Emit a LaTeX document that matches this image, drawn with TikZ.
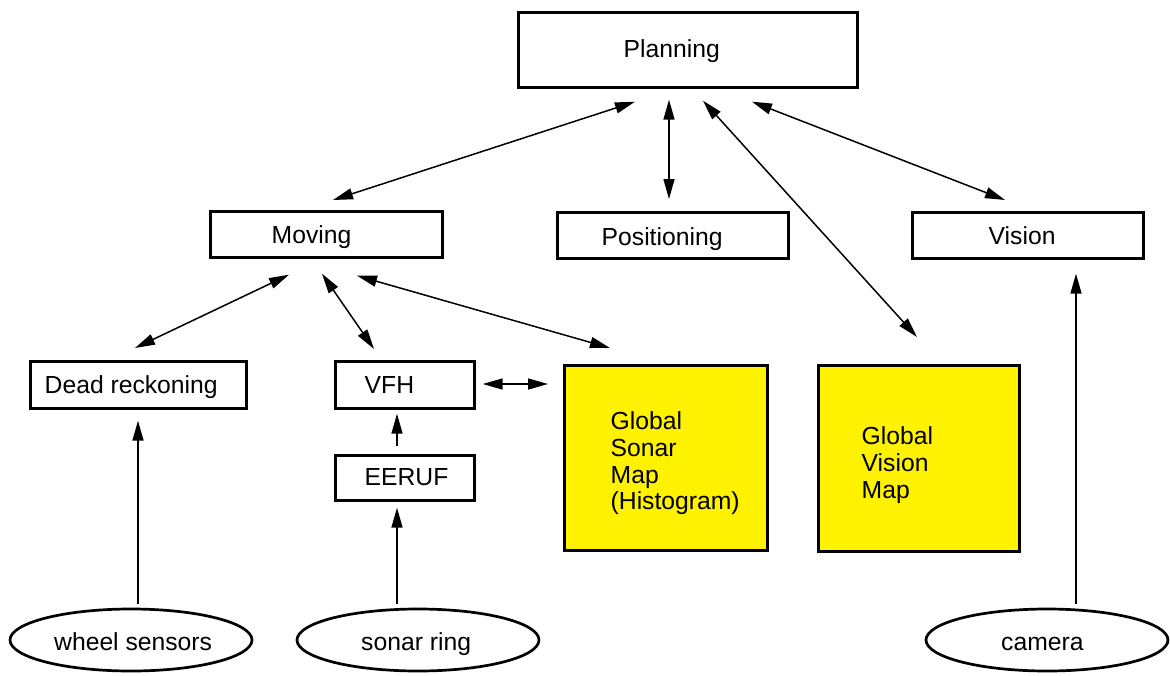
\documentclass[tikz,border=0pt]{standalone}
\usepackage{fontspec}
\setmainfont{Liberation Sans}
\usetikzlibrary{arrows.meta,calc,shapes.geometric}
\begin{document}
\begin{tikzpicture}[x=1pt,y=-1pt,
  box/.style={draw, line width=2.7pt, anchor=north west, inner sep=0pt},
  mapbox/.style={box, fill=yellow},
  sensor/.style={draw, ellipse, line width=2.7pt, minimum width=242pt, minimum height=62pt, inner sep=0pt},
  lbl/.style={anchor=base west, inner sep=0pt, font=\fontsize{24.7}{26.7}\selectfont},
  hd/.tip={Triangle[length=20pt,width=11pt]},
  arr/.style={-hd, line width=1.5pt},
  dbl/.style={hd-hd, line width=1.5pt}]
\useasboundingbox (0,0) rectangle (1170,675);

% boxes
\node[box, minimum width=339pt, minimum height=75pt] (planning) at (517,11) {};
\node[box, minimum width=232pt, minimum height=46pt] (moving) at (209,210) {};
\node[box, minimum width=231pt, minimum height=46pt] (positioning) at (556,211) {};
\node[box, minimum width=231pt, minimum height=46pt] (vision) at (911,211) {};
\node[box, minimum width=216pt, minimum height=47pt] (dead) at (29,360) {};
\node[box, minimum width=139pt, minimum height=47pt] (vfh) at (334,360) {};
\node[box, minimum width=139pt, minimum height=45pt] (eeruf) at (334,454) {};
\node[mapbox, minimum width=203pt, minimum height=185pt] (sonarmap) at (563,364) {};
\node[mapbox, minimum width=201pt, minimum height=186pt] (visionmap) at (817,364) {};

% sensors
\node[sensor] (wheel) at (131,640) {};
\node[sensor] (sonarring) at (418,640) {};
\node[sensor] (camera) at (1047,640) {};

% texts
\node[lbl] (planning-t) at (623.5,57.3) {Planning};
\node[lbl] (moving-t) at (271.5,243.3) {Moving};
\node[lbl] (positioning-t) at (601.5,245) {Positioning};
\node[lbl] (vision-t) at (988.5,244.3) {Vision};
\node[lbl] (dead-t) at (44.5,393.3) {Dead reckoning};
\node[lbl] (vfh-t) at (364.5,393.3) {VFH};
\node[lbl] (eeruf-t) at (364.5,485) {EERUF};
\node[lbl] (sonarmap-t) at (610.5,429.7) {\begin{tabular}[t]{@{}l@{}}Global\\Sonar\\Map\\(Histogram)\end{tabular}};
\node[lbl] (visionmap-t) at (861.5,444.7) {\begin{tabular}[t]{@{}l@{}}Global\\Vision\\Map\end{tabular}};
\node[lbl] (wheel-t) at (54,650) {wheel sensors};
\node[lbl] (sonarring-t) at (361,650) {sonar ring};
\node[lbl] (camera-t) at (1001,650) {camera};

% connectors
\draw[dbl] ($(moving.north west)+(124,-10)$) -- ($(planning.south west)+(118,13)$);
\draw[dbl] ($(planning.south west)+(152,11)$) -- ($(positioning.north west)+(113,-12)$);
\draw[dbl] ($(planning.south west)+(186,12)$) -- ($(visionmap.north west)+(100,-27)$);
\draw[dbl] ($(planning.south west)+(235,13)$) -- ($(vision.north west)+(94,-11)$);
\draw[dbl] ($(dead.north west)+(106,-12)$) -- ($(moving.south west)+(80,16)$);
\draw[dbl] ($(vfh.north west)+(40,-11)$) -- ($(moving.south west)+(113,15)$);
\draw[dbl] ($(sonarmap.north west)+(47,-16)$) -- ($(moving.south west)+(148,17)$);
\draw[dbl] ($(vfh.north east)+(7,24)$) -- ($(sonarmap.north west)+(-15,20)$);
\draw[arr] ($(eeruf.north west)+(63,-8)$) -- ($(vfh.south west)+(63,4)$);
\draw[arr] ($(sonarring.north)+(-21,-4)$) -- ($(eeruf.south west)+(63,6)$);
\draw[arr] ($(wheel.north)+(7,-4)$) -- ($(dead.south west)+(109,11)$);
\draw[arr] ($(camera.north)+(29,-4)$) -- ($(vision.south west)+(165,14)$);
\end{tikzpicture}
\end{document}
